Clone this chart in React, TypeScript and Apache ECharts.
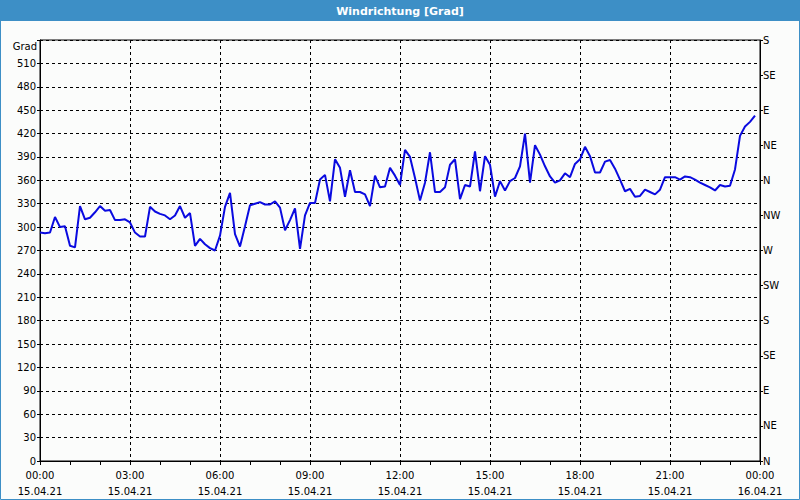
import React, { useEffect, useRef } from "react";
import * as echarts from "echarts";

const title = "Windrichtung [Grad]";
const unitLabel = "Grad";
const stepMinutes = 10;
const dayLabels = ["15.04.21", "16.04.21"];
const compassLabels = ["N", "NE", "E", "SE", "S", "SW", "W", "NW", "N", "NE", "E", "SE", "S"];

// wind direction in degrees, one value every 10 minutes from 00:00
const directionValues = [
  293, 292, 293, 313, 300, 301, 276, 274, 327, 310,
  312, 319, 327, 321, 322, 309, 309, 310, 306, 293,
  288, 288, 326, 320, 317, 315, 310, 315, 327, 312,
  318, 276, 285, 278, 273, 270, 289, 326, 344, 291,
  275, 301, 328, 330, 332, 329, 329, 333, 325, 296,
  309, 324, 272, 315, 331, 331, 361, 367, 333, 387,
  376, 339, 373, 345, 345, 342, 327, 366, 351, 352,
  376, 366, 354, 399, 390, 363, 334, 357, 396, 345,
  345, 351, 380, 387, 336, 354, 352, 397, 346, 391,
  380, 339, 359, 347, 359, 363, 378, 420, 357, 405,
  393, 378, 365, 357, 360, 369, 364, 381, 387, 403,
  391, 370, 370, 384, 386, 375, 361, 346, 349, 339,
  340, 348, 345, 342, 348, 364, 364, 364, 361, 365,
  364, 361, 357, 354, 351, 347, 354, 352, 353, 374,
  417, 429, 435, 443,
];

const FONT = "DejaVu Sans";

export default function App() {
  const ref = useRef<HTMLDivElement>(null);
  useEffect(() => {
    if (!ref.current) return;
    const chart = echarts.init(ref.current, null, { renderer: "svg" });
    const data = directionValues.map((v, i) => [(i * stepMinutes) / 60, v]);
    const pad = (n: number) => (n < 10 ? "0" + n : "" + n);
    chart.setOption({
      animation: false,
      backgroundColor: "#fbfcfb",
      textStyle: { fontFamily: FONT },
      graphic: [
        { type: "rect", shape: { x: 0, y: 0, width: 800, height: 21 }, style: { fill: "#3d8fc6" }, silent: true },
        { type: "rect", shape: { x: 0.5, y: 0.5, width: 799, height: 499 }, style: { fill: "none", stroke: "#3d8fc6", lineWidth: 1 }, silent: true },
        {
          type: "text", x: 400, y: 11,
          style: { text: title, fill: "#ffffff", font: "bold 11px " + FONT, textAlign: "center", textVerticalAlign: "middle" },
        },
        {
          type: "text", x: 37, y: 46,
          style: { text: unitLabel, fill: "#000", font: "10px " + FONT, textAlign: "right", textVerticalAlign: "middle" },
        },
      ],
      grid: { left: 40, right: 40, top: 40, bottom: 39, show: true, borderColor: "#000", borderWidth: 1, backgroundColor: "transparent" },
      xAxis: {
        type: "value",
        min: 0,
        max: 24,
        interval: 3,
        axisLine: { show: true, lineStyle: { color: "#000" } },
        axisTick: { show: true, length: 4, lineStyle: { color: "#000" } },
        minorTick: { show: true, splitNumber: 3, length: 4, lineStyle: { color: "#000" } },
        splitLine: { show: true, lineStyle: { color: "#000", type: [3, 3], width: 1 } },
        axisLabel: {
          color: "#000",
          fontSize: 10,
          lineHeight: 16,
          margin: 6,
          formatter: (v: number) => {
            const h = Math.round(v);
            const day = Math.floor(h / 24);
            return pad(h % 24) + ":00\n" + dayLabels[day];
          },
        },
      },
      yAxis: [
        {
          type: "value",
          min: 0,
          max: 540,
          interval: 30,
          position: "left",
          axisLine: { show: true, lineStyle: { color: "#000" } },
          axisTick: { show: true, length: 3, lineStyle: { color: "#000" } },
          splitLine: { show: true, lineStyle: { color: "#000", type: [3, 3], width: 1 } },
          axisLabel: {
            color: "#000",
            fontSize: 10,
            margin: 4,
            formatter: (v: number) => (v === 540 ? "" : String(v)),
          },
        },
        {
          type: "value",
          min: 0,
          max: 540,
          interval: 45,
          position: "right",
          axisLine: { show: true, lineStyle: { color: "#000" } },
          axisTick: { show: true, length: 3, lineStyle: { color: "#000" } },
          splitLine: { show: false },
          axisLabel: {
            color: "#000",
            fontSize: 10,
            margin: 3,
            formatter: (v: number) => compassLabels[Math.round(v / 45)] ?? "",
          },
        },
      ],
      series: [
        {
          type: "line",
          data,
          symbol: "none",
          lineStyle: { color: "#0a0ae0", width: 2 },
          yAxisIndex: 0,
        },
      ],
    });
    return () => chart.dispose();
  }, []);
  return (
    <div
      ref={ref}
      style={{ position: "fixed", left: 0, top: 0, width: 800, height: 500 }}
    />
  );
}
